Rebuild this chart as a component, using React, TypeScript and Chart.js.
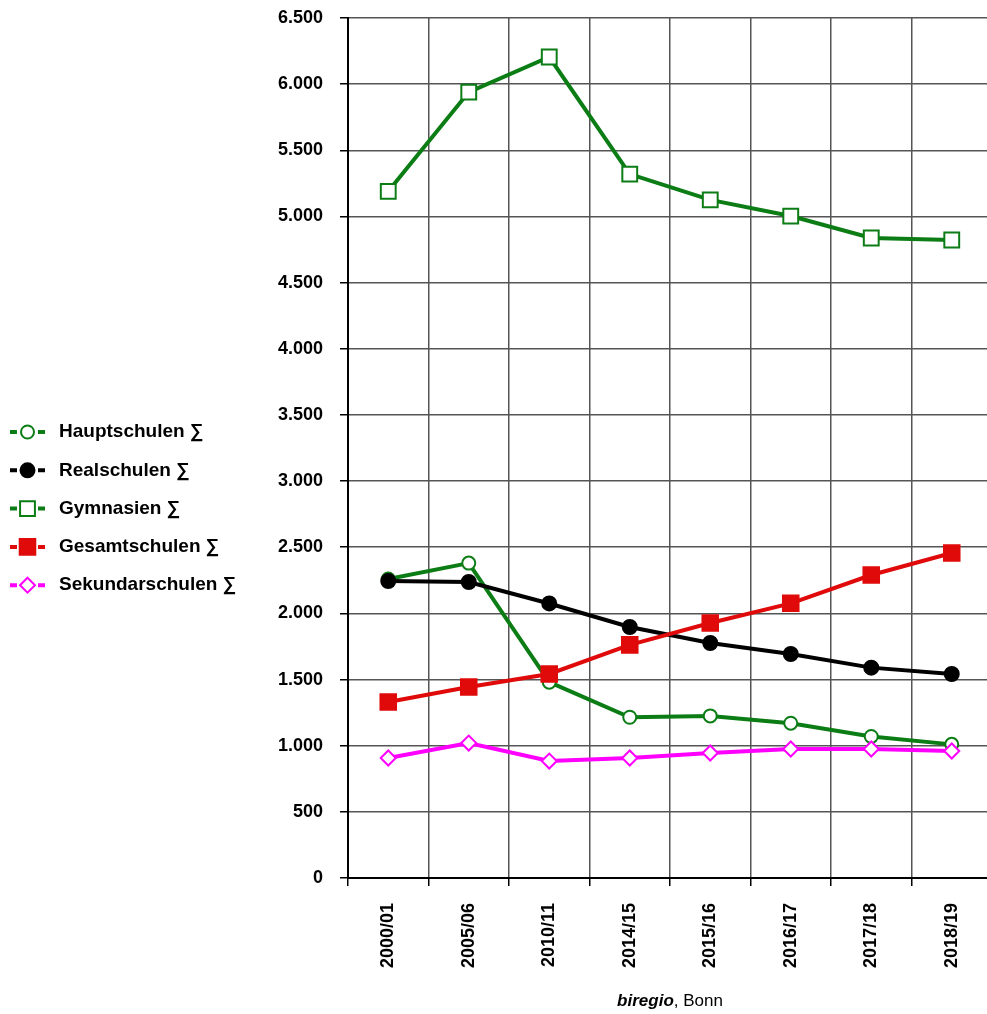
import React, { useEffect, useRef } from 'react';
import { Chart, registerables } from 'chart.js';
import { drawPoint } from 'chart.js/helpers';

Chart.register(...registerables);

const categories = ['2000/01', '2005/06', '2010/11', '2014/15', '2015/16', '2016/17', '2017/18', '2018/19'];
const hauptschulen = [2260, 2380, 1480, 1215, 1225, 1170, 1070, 1010];
const realschulen = [2245, 2237, 2075, 1897, 1776, 1693, 1590, 1542];
const gymnasien = [5190, 5940, 6205, 5320, 5125, 5003, 4837, 4822];
const gesamtschulen = [1330, 1444, 1542, 1762, 1927, 2076, 2290, 2456];
const sekundarschulen = [907, 1020, 884, 907, 945, 975, 975, 960];
const seriesLabels = ['Hauptschulen ∑', 'Realschulen ∑', 'Gymnasien ∑', 'Gesamtschulen ∑', 'Sekundarschulen ∑'];
const yMin = 0;
const yMax = 6500;
const yStep = 500;
const footerItalic = 'biregio';
const footerRest = ', Bonn';

const FONT = '"Liberation Sans", Arial, Helvetica, sans-serif';
const GREEN = '#0b7d14';
const RED = '#e00a0a';
const MAGENTA = '#ff00ff';

const fmt = (v: number | string) => String(v).replace(/\B(?=(\d{3})+(?!\d))/g, '.');

const sideLegend = {
  id: 'sideLegend',
  afterDraw(chart: any) {
    const ctx = chart.ctx as CanvasRenderingContext2D;
    const startY = 432;
    const step = 38.3;
    chart.data.datasets.forEach((d: any, i: number) => {
      const y = startY + i * step;
      ctx.save();
      ctx.strokeStyle = d.borderColor;
      ctx.lineWidth = 4;
      ctx.beginPath();
      ctx.moveTo(10, y);
      ctx.lineTo(17, y);
      ctx.moveTo(38, y);
      ctx.lineTo(45, y);
      ctx.stroke();
      ctx.fillStyle = d.pointBackgroundColor;
      ctx.strokeStyle = d.pointBorderColor;
      ctx.lineWidth = d.pointBorderWidth;
      drawPoint(ctx, { pointStyle: d.pointStyle, radius: d.pointRadius, rotation: 0, borderWidth: d.pointBorderWidth } as any, 27.5, y);
      ctx.fillStyle = '#000';
      ctx.font = `bold 19px ${FONT}`;
      ctx.textBaseline = 'middle';
      ctx.textAlign = 'left';
      ctx.fillText(d.label, 59, y);
      ctx.restore();
    });
  },
};

const footer = {
  id: 'footer',
  afterDraw(chart: any) {
    const ctx = chart.ctx as CanvasRenderingContext2D;
    const { left, right } = chart.chartArea;
    ctx.save();
    const f1 = `italic bold 17px ${FONT}`;
    const f2 = `17px ${FONT}`;
    ctx.font = f1;
    const w1 = ctx.measureText(footerItalic).width;
    ctx.font = f2;
    const w2 = ctx.measureText(footerRest).width;
    const x0 = (left + right) / 2 - (w1 + w2) / 2;
    const y = 1001;
    ctx.textBaseline = 'middle';
    ctx.textAlign = 'left';
    ctx.fillStyle = '#000';
    ctx.font = f1;
    ctx.fillText(footerItalic, x0, y);
    ctx.font = f2;
    ctx.fillText(footerRest, x0 + w1, y);
    ctx.restore();
  },
};

function App() {
  const ref = useRef<HTMLCanvasElement>(null);
  useEffect(() => {
    if (!ref.current) return;
    const mk = (label: string, data: number[], color: string, style: string, fill: string, radius: number, order: number) => ({
      label,
      data,
      borderColor: color,
      backgroundColor: color,
      borderWidth: 4,
      pointStyle: style,
      pointRadius: radius,
      pointBackgroundColor: fill,
      pointBorderColor: color,
      pointBorderWidth: 2,
      tension: 0,
      order,
    });
    const chart = new Chart(ref.current, {
      type: 'line',
      data: {
        labels: categories,
        datasets: [
          mk(seriesLabels[0], hauptschulen, GREEN, 'circle', '#fff', 6.5, 5),
          mk(seriesLabels[1], realschulen, '#000', 'circle', '#000', 7, 4),
          mk(seriesLabels[2], gymnasien, GREEN, 'rect', '#fff', 10.5, 3),
          mk(seriesLabels[3], gesamtschulen, RED, 'rect', RED, 11, 2),
          mk(seriesLabels[4], sekundarschulen, MAGENTA, 'rectRot', '#fff', 7.5, 1),
        ] as any,
      },
      options: {
        responsive: false,
        animation: false,
        layout: { padding: { left: 0, right: 8, top: 18, bottom: 0 } },
        plugins: {
          legend: { display: false },
          tooltip: { enabled: false },
        },
        scales: {
          x: {
            offset: true,
            grid: { offset: true, color: '#555', lineWidth: 1.5, tickLength: 8, tickColor: '#000' },
            border: { color: '#000', width: 2 },
            ticks: {
              autoSkip: false,
              maxRotation: 90,
              minRotation: 90,
              padding: 17,
              color: '#000',
              font: { family: FONT, size: 18, weight: 'bold' },
            },
            afterFit: (s: any) => {
              s.height = 136;
              s.paddingLeft = 0;
              s.paddingRight = 0;
            },
          },
          y: {
            min: yMin,
            max: yMax,
            grid: { color: '#555', lineWidth: 1.5, tickLength: 8, tickColor: '#000' },
            border: { color: '#000', width: 2 },
            ticks: {
              stepSize: yStep,
              padding: 17,
              color: '#000',
              font: { family: FONT, size: 18, weight: 'bold' },
              callback: (v: any) => fmt(v),
            },
            afterFit: (s: any) => {
              s.width = 348;
              s.paddingTop = 0;
              s.paddingBottom = 0;
            },
          },
        },
      } as any,
      plugins: [sideLegend, footer],
    });
    return () => chart.destroy();
  }, []);
  return (
    <div style={{ position: 'fixed', left: 0, top: 0, width: 987, height: 1014, overflow: 'hidden', background: '#fff' }}>
      <canvas ref={ref} width={1005} height={1014} style={{ display: 'block' }} />
    </div>
  );
}

export default App;
